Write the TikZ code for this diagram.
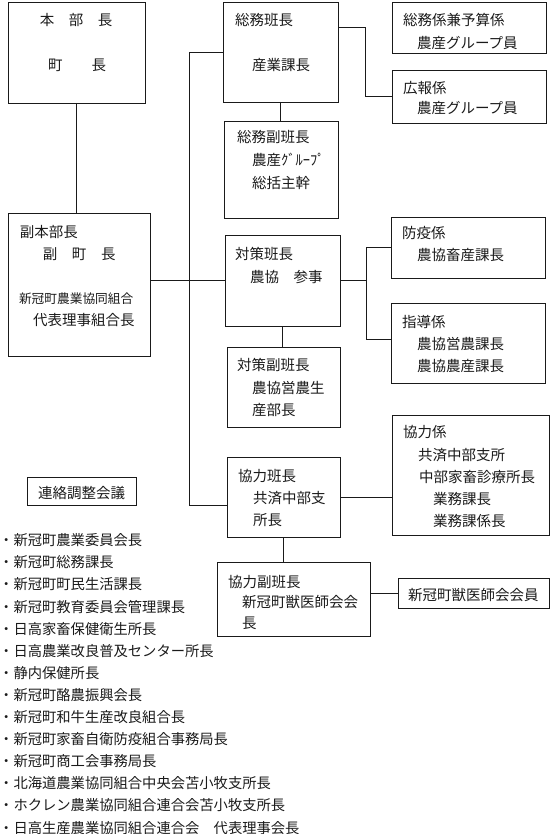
\documentclass[tikz,border=0pt]{standalone}
\usepackage{fontspec}
\setmainfont{Noto Sans CJK JP}
\usepackage{xcolor}
\usepackage{tikz}
\usetikzlibrary{positioning,calc}
\definecolor{InkDark}{HTML}{1A1A1A}

\newcommand{\orgtext}[4]{%
  \begin{minipage}[t][#2][t]{#1}\vspace*{#3}#4\end{minipage}}

\begin{document}
\begin{tikzpicture}[x=1pt,y=-1pt,
          every node/.style={font=\fontsize{14.5pt}{22pt}\selectfont,text=InkDark},
          bx/.style={draw=InkDark,line width=0.9pt,anchor=north west,
            inner sep=0pt,outer sep=0pt},
          ln/.style={draw=InkDark,line width=0.8pt}]
        \useasboundingbox (0,0) rectangle (553,834);
        \node[bx] (honbu) at (8,2)
        {\orgtext{137pt}{101pt}{11.5pt}{\hspace*{32pt}本　部　長\\[23pt]
          \hspace*{40pt}町　　長}};
        \node[bx] (fuku) at (8,213)
        {\orgtext{142pt}{143pt}{12.5pt}{\hspace*{12pt}副本部長\\
          \hspace*{35pt}副　町　長\\[22pt]
          \hspace*{11pt}{\fontsize{12.7pt}{22pt}\selectfont 新冠町農業協同組合}\\
          \hspace*{25pt}代表理事組合長}};
        \node[bx] (soumu) at (223,2)
        {\orgtext{115pt}{100pt}{11.5pt}{\hspace*{12pt}総務班長\\[23pt]
          \hspace*{29pt}産業課長}};
        \node[bx] (sfuku) at (224,121)
        {\orgtext{114pt}{97pt}{9.5pt}{\hspace*{13pt}総務副班長\\[1pt]
          \hspace*{28pt}農産ｸﾞﾙｰﾌﾟ\\[1pt]
          \hspace*{28pt}総括主幹}};
        \node[bx] (kakari1) at (392,2)
        {\orgtext{154pt}{51pt}{11.5pt}{\hspace*{11pt}総務係兼予算係\\[1pt]
          \hspace*{25pt}農産グループ員}};
        \node[bx] (kouhou) at (392,70)
        {\orgtext{154pt}{53pt}{11.5pt}{\hspace*{11pt}広報係\\[-2pt]
          \hspace*{25pt}農産グループ員}};
        \node[bx] (taisaku) at (225,235)
        {\orgtext{115pt}{91pt}{12.5pt}{\hspace*{10pt}対策班長\\[1pt]
          \hspace*{25pt}農協　参事}};
        \node[bx] (tfuku) at (227,347)
        {\orgtext{113pt}{80pt}{11.5pt}{\hspace*{10pt}対策副班長\\[1pt]
          \hspace*{25pt}農協営農生\\
          \hspace*{25pt}産部長}};
        \node[bx] (boueki) at (391,217)
        {\orgtext{154pt}{61pt}{9.5pt}{\hspace*{11pt}防疫係\\
          \hspace*{26pt}農協畜産課長}};
        \node[bx] (shidou) at (391,303)
        {\orgtext{154pt}{80pt}{12.5pt}{\hspace*{11pt}指導係\\
          \hspace*{26pt}農協営農課長\\
          \hspace*{26pt}農協農産課長}};
        \node[bx] (kyoryoku) at (227,457)
        {\orgtext{113pt}{80pt}{12.5pt}{\hspace*{11pt}協力班長\\
          \hspace*{26pt}共済中部支\\
          \hspace*{26pt}所長}};
        \node[bx] (kkakari) at (392,415)
        {\orgtext{157pt}{120pt}{10.5pt}{\hspace*{11pt}協力係\\[1pt]
          \hspace*{26pt}共済中部支所\\
          \hspace*{27pt}中部家畜診療所長\\
          \hspace*{41pt}業務課長\\
          \hspace*{41pt}業務課係長}};
        \node[bx] (kfuku) at (217,562)
        {\orgtext{153pt}{74pt}{13.5pt}{\hspace*{11pt}協力副班長\\[-2pt]
          \hspace*{25pt}新冠町獣医師会会\\[-1pt]
          \hspace*{25pt}長}};
        \node[bx] (juui) at (398,578)
        {\orgtext{151pt}{30pt}{10.5pt}{\hspace*{10pt}新冠町獣医師会会員}};
        \node[bx] (renraku) at (27,477)
        {\orgtext{109pt}{28pt}{9.5pt}{\centering 連絡調整会議}};
        \node[anchor=north west,inner sep=0pt,align=left,
          font=\fontsize{14.3pt}{22.1pt}\selectfont]
        (members) at (-1,533.5)
        {・新冠町農業委員会長\\
          ・新冠町総務課長\\
          ・新冠町町民生活課長\\
          ・新冠町教育委員会管理課長\\
          ・日高家畜保健衛生所長\\
          ・日高農業改良普及センター所長\\
          ・静内保健所長\\
          ・新冠町酪農振興会長\\
          ・新冠町和牛生産改良組合長\\
          ・新冠町家畜自衛防疫組合事務局長\\
          ・新冠町商工会事務局長\\
          ・北海道農業協同組合中央会苫小牧支所長\\
          ・ホクレン農業協同組合連合会苫小牧支所長\\
          ・日高生産農業協同組合連合会　代表理事会長};
        \coordinate (trk) at (189,0);
        \coordinate (brA) at (365,0);
        \coordinate (brB) at (366,0);
        \coordinate (kyIn) at ([yshift=-8pt]kyoryoku.west);
        \coordinate (shIn) at ([yshift=4pt]shidou.west);
        \draw[ln] (honbu.south) -- (honbu.south |- fuku.north);
        \draw[ln] (fuku.east |- taisaku.west) -- (taisaku.west);
        \draw[ln] (soumu.west) -- (trk |- soumu.west) -- (trk |- kyIn) -- (kyIn);
        \draw[ln] (soumu.south) -- (soumu.south |- sfuku.north);
        \draw[ln] (soumu.east |- kakari1.west) -- (brA |- kakari1.west)
          -- (brA |- kouhou.west) -- (kouhou.west);
        \draw[ln] (taisaku.south) -- (taisaku.south |- tfuku.north);
        \draw[ln] (taisaku.east) -- (brB |- taisaku.east);
        \draw[ln] (boueki.west) -- (brB |- boueki.west) -- (brB |- shIn) -- (shIn);
        \draw[ln] (kyoryoku.east) -- (kyoryoku.east -| kkakari.west);
        \draw[ln] (kyoryoku.south) -- (kyoryoku.south |- kfuku.north);
        \draw[ln] (juui.west -| kfuku.east) -- (juui.west);
      \end{tikzpicture}
\end{document}
